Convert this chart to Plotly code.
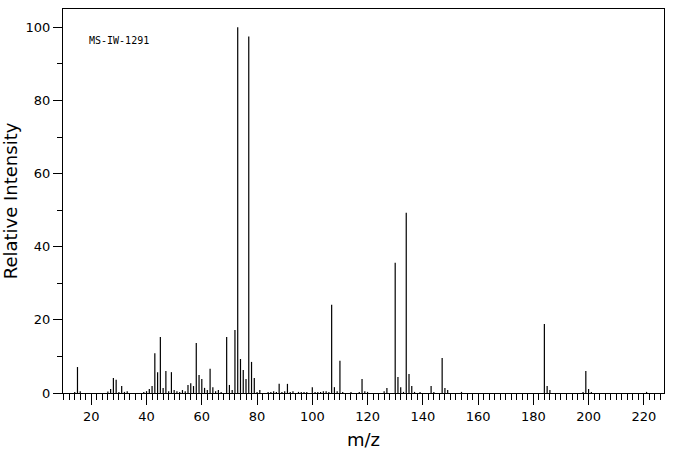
import plotly.graph_objects as go

mz = [14, 15, 16, 26, 27, 28, 29, 30, 31, 32, 33, 39, 40, 41, 42, 43, 44, 45, 46, 47,
      48, 49, 50, 51, 52, 53, 54, 55, 56, 57, 58, 59, 60, 61, 62, 63, 64, 65, 66, 67,
      69, 70, 71, 72, 73, 74, 75, 76, 77, 78, 79, 80, 81, 84, 85, 86, 87, 88, 89, 90,
      91, 92, 93, 95, 96, 97, 98, 100, 101, 102, 103, 104, 105, 106, 107, 108, 109, 110,
      111, 114, 117, 118, 119, 120, 126, 127, 130, 131, 132, 133, 134, 135, 136, 137,
      139, 143, 144, 147, 148, 149, 154, 184, 185, 186, 198, 199, 200, 201, 221]
intensity = [0.3, 7.1, 0.5, 0.4, 1.1, 4.1, 3.6, 0.3, 1.9, 0.3, 0.5, 0.3, 0.5, 1.1, 1.9, 10.9, 5.7, 15.3, 1.4, 6.0,
             0.5, 5.7, 0.8, 0.5, 0.3, 0.8, 0.5, 2.2, 2.7, 1.9, 13.7, 4.9, 3.8, 1.4, 0.8, 6.6, 1.6, 0.5, 0.8, 0.3,
             15.3, 2.2, 0.8, 17.2, 100, 9.3, 6.3, 3.8, 97.5, 8.5, 4.1, 0.3, 0.8, 0.3, 0.3, 0.5, 0.3, 2.5, 0.3, 0.5,
             2.5, 0.3, 0.5, 0.3, 0.3, 0.3, 0.3, 1.6, 0.3, 0.3, 0.3, 0.5, 0.5, 0.3, 24.1, 1.6, 0.5, 8.8,
             0.3, 0.3, 0.3, 3.8, 0.5, 0.3, 0.5, 1.4, 35.6, 4.4, 1.6, 0.3, 49.3, 5.2, 1.9, 0.3,
             0.3, 1.9, 0.3, 9.6, 1.4, 0.8, 0.3, 18.9, 1.9, 0.8, 0.3, 6.0, 1.1, 0.3, 0.3]
x_ticks = [20, 40, 60, 80, 100, 120, 140, 160, 180, 200, 220]
y_ticks = [0, 20, 40, 60, 80, 100]
label = "MS-IW-1291"

xs, ys = [], []
for m, v in zip(mz, intensity):
    xs += [m, m, None]
    ys += [0, v, None]

fig = go.Figure()
fig.add_trace(go.Scatter(x=xs, y=ys, mode="lines",
                         line=dict(color="black", width=1.2),
                         hoverinfo="skip", showlegend=False))

font_family = "DejaVu Sans, Liberation Sans, sans-serif"
fig.update_layout(
    template="none",
    width=676, height=455,
    margin=dict(l=63, r=12, t=9, b=62, autoexpand=False),
    paper_bgcolor="white", plot_bgcolor="white",
    font=dict(family=font_family, color="black", size=13),
    xaxis=dict(range=[9.76, 227.3], tickmode="array", tickvals=x_ticks,
               ticktext=[str(t) for t in x_ticks], automargin=False,
               ticks="outside", ticklen=11, tickwidth=1, tickcolor="black",
               minor=dict(dtick=2, tick0=0, ticks="outside", ticklen=6, tickwidth=1, tickcolor="black"),
               showline=True, linecolor="black", linewidth=1, mirror=True,
               showgrid=False, zeroline=False,
               tickfont=dict(size=13),
               title=dict(text="m/z", font=dict(size=18), standoff=10)),
    yaxis=dict(range=[0, 105], tickmode="array", tickvals=y_ticks,
               ticktext=[str(t) for t in y_ticks], automargin=False,
               ticks="outside", ticklen=9, tickwidth=1, tickcolor="black",
               minor=dict(dtick=10, tick0=0, ticks="outside", ticklen=5, tickwidth=1, tickcolor="black"),
               showline=True, linecolor="black", linewidth=1, mirror=True,
               showgrid=False, zeroline=False,
               tickfont=dict(size=13),
               title=dict(text="Relative Intensity", font=dict(size=18), standoff=8)),
    annotations=[dict(text=label, xref="paper", yref="paper", x=0.04, y=0.917,
                      xanchor="left", yanchor="middle", showarrow=False,
                      font=dict(family="DejaVu Sans Mono, monospace", size=10, color="black"))],
)

fig.write_html("out.html")
